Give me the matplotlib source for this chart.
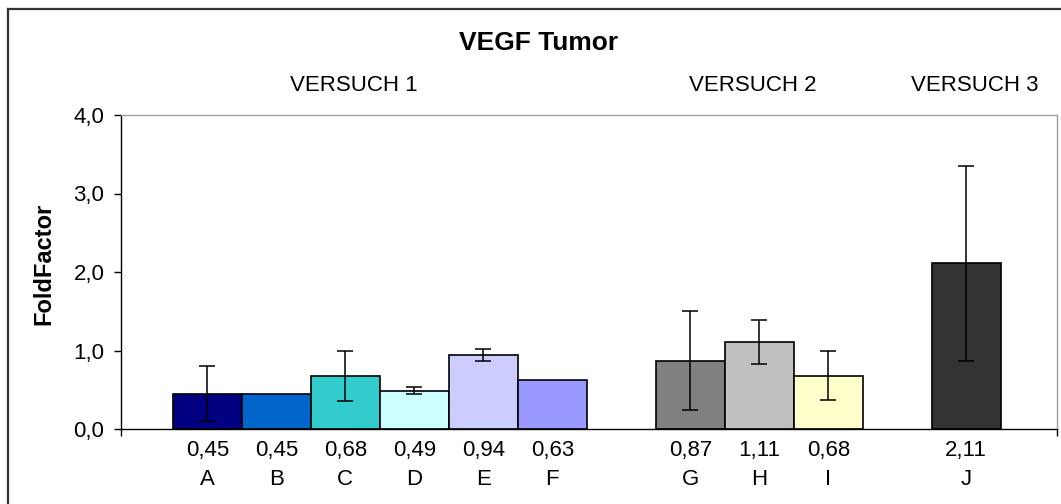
import matplotlib
matplotlib.use("Agg")
import matplotlib.pyplot as plt
from matplotlib.ticker import FuncFormatter
from matplotlib.lines import Line2D
import matplotlib.transforms as mtransforms

plt.rcParams["font.family"] = ["Liberation Sans", "DejaVu Sans"]

# Data
labels = ["A", "B", "C", "D", "E", "F", "G", "H", "I", "J"]
values = [0.45, 0.45, 0.68, 0.49, 0.94, 0.63, 0.87, 1.11, 0.68, 2.11]
errors = [0.35, 0.0, 0.32, 0.05, 0.08, 0.0, 0.63, 0.28, 0.31, 1.24]
groups = ["VERSUCH 1", "VERSUCH 2", "VERSUCH 3"]
group_sizes = [6, 3, 1]
colors = ["#000080", "#0066CC", "#33CCCC", "#CCFFFF", "#CCCCFF", "#9999FF",
          "#808080", "#C0C0C0", "#FFFFCC", "#333333"]

# Bar positions: bars touch inside a group, one bar-width gap between groups
positions = []
x = 1.25
for gi, n in enumerate(group_sizes):
    for k in range(n):
        positions.append(x)
        x += 1.0
    x += 1.0
xmax = 13.565

W, H = 1061, 504
fig = plt.figure(figsize=(W / 100, H / 100), dpi=100)
ax = fig.add_axes([121 / W, 1 - 429 / H, (1057 - 121) / W, (429 - 115) / H])

ax.bar(positions, values, width=1.0, color=colors, edgecolor="black",
       linewidth=1.2, zorder=2)
err_pos = [p for p, e in zip(positions, errors) if e > 0]
err_val = [v for v, e in zip(values, errors) if e > 0]
err_err = [e for e in errors if e > 0]
ax.errorbar(err_pos, err_val, yerr=err_err, fmt="none", ecolor="black",
            elinewidth=1.1, capsize=5.5, capthick=1.1, zorder=3)

ax.set_xlim(0, xmax)
ax.set_ylim(0, 4.0)
ax.set_yticks([0, 1, 2, 3, 4])
ax.yaxis.set_major_formatter(FuncFormatter(lambda v, p: f"{v:.1f}".replace(".", ",")))
ax.tick_params(axis="y", direction="out", length=5, width=1, labelsize=16, pad=7)
ax.set_xticks([0, xmax])
ax.set_xticklabels([])
ax.tick_params(axis="x", direction="out", length=5, width=1)

for side in ("left", "bottom"):
    ax.spines[side].set_color("black")
    ax.spines[side].set_linewidth(1.0)
for side in ("top", "right"):
    ax.spines[side].set_color("#A0A0A0")
    ax.spines[side].set_linewidth(1.0)

# Value and letter labels under each bar
trans = mtransforms.blended_transform_factory(ax.transData, ax.transAxes)
for p, v, lab in zip(positions, values, labels):
    ax.text(p, -0.067, f"{v:.2f}".replace(".", ","), transform=trans,
            ha="center", va="center", fontsize=16)
    ax.text(p, -0.162, lab, transform=trans, ha="center", va="center", fontsize=16)

# Title, group captions and axis label
fig.text(539 / W, 1 - 43 / H, "VEGF Tumor", ha="center", va="center",
         fontsize=19, fontweight="bold")
for gx, g in zip([354, 753, 975], groups):
    fig.text(gx / W, 1 - 85 / H, g, ha="center", va="center", fontsize=16)
fig.text(44 / W, 1 - 264 / H, "FoldFactor", ha="center", va="center",
         rotation=90, fontsize=17, fontweight="bold")

# Chart frame
fx, fy = 7.5 / W, 1 - 8.5 / H
fig.add_artist(Line2D([fx, fx], [0, fy], color="#333333", linewidth=1.6,
                      transform=fig.transFigure))
fig.add_artist(Line2D([fx, 1], [fy, fy], color="#333333", linewidth=1.6,
                      transform=fig.transFigure))

fig.savefig("out.png", dpi=100)
